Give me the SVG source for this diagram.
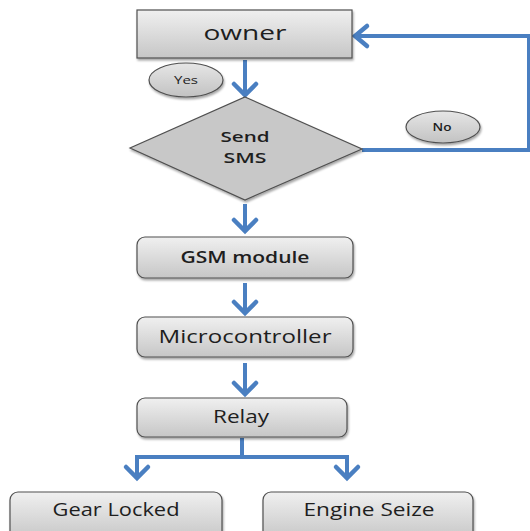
<svg xmlns="http://www.w3.org/2000/svg" width="530" height="531" viewBox="0 0 530 531">
<style>
.box{stroke:#505050;stroke-width:1.2;fill:url(#g)}
.ell{stroke:#505050;stroke-width:1.2;fill:url(#ge)}
.t{font-family:"Open Sans","Liberation Sans",sans-serif;fill:#1e1e1e;text-anchor:middle}
.c{stroke:#4a7fc1;stroke-width:4;fill:none}
.h{stroke:#4a7fc1;stroke-width:4.5;fill:none;stroke-linecap:round;stroke-linejoin:miter}
</style>
<defs>
<linearGradient id="g" x1="0" y1="0" x2="0" y2="1">
<stop offset="0" stop-color="#f0f0f0"/>
<stop offset="1" stop-color="#c6c6c6"/>
</linearGradient>
<linearGradient id="ge" x1="0" y1="0" x2="0" y2="1">
<stop offset="0" stop-color="#e6e6e6"/>
<stop offset="1" stop-color="#c2c2c2"/>
</linearGradient>
<filter id="s" x="-10%" y="-10%" width="120%" height="130%">
<feDropShadow dx="1" dy="2" stdDeviation="1.2" flood-color="#000" flood-opacity="0.35"/>
</filter>
</defs>
<rect width="530" height="531" fill="#fff"/>
<g id="connectors">
<line class="c" x1="245" y1="60" x2="245" y2="94"/>
<polyline class="h" points="234,84 245,95 256,84"/>
<polyline class="c" points="362,150 529,150 529,36 356,36"/>
<polyline class="h" points="367,26 355,36 367,46"/>
<line class="c" x1="245" y1="204" x2="245" y2="230"/>
<polyline class="h" points="234,220 245,231 256,220"/>
<line class="c" x1="245" y1="283" x2="245" y2="312"/>
<polyline class="h" points="234,302 245,313 256,302"/>
<line class="c" x1="245" y1="363" x2="245" y2="393"/>
<polyline class="h" points="234,383 245,394 256,383"/>
<polyline class="c" points="137,476 137,457 347,457 347,476"/>
<line class="c" x1="242" y1="438" x2="242" y2="457"/>
<polyline class="h" points="126,467 137,478 148,467"/>
<polyline class="h" points="336,467 347,478 358,467"/>
</g>
<g id="owner">
<rect class="box" x="137" y="10" width="215" height="48" filter="url(#s)"/>
<text class="t" x="245" y="40" font-size="20" textLength="83" lengthAdjust="spacingAndGlyphs">owner</text>
</g>
<g id="yes">
<ellipse class="ell" cx="186" cy="80" rx="37" ry="17" filter="url(#s)"/>
<text class="t" x="186" y="84" font-size="10" textLength="24" lengthAdjust="spacingAndGlyphs">Yes</text>
</g>
<g id="send-sms">
<polygon points="245,97 362,149 245,200 130,148" fill="#c8c8c8" stroke="#505050" stroke-width="1.2" filter="url(#s)"/>
<text class="t" x="245" y="142" font-size="14.5" font-weight="600" textLength="49" lengthAdjust="spacingAndGlyphs">Send</text>
<text class="t" x="245" y="163" font-size="14.5" font-weight="600" textLength="43" lengthAdjust="spacingAndGlyphs">SMS</text>
</g>
<g id="no">
<ellipse class="ell" cx="443" cy="127" rx="37" ry="16" filter="url(#s)"/>
<text class="t" x="442" y="131" font-size="10" font-weight="600" textLength="19" lengthAdjust="spacingAndGlyphs">No</text>
</g>
<g id="gsm">
<rect class="box" x="137" y="237" width="216" height="41" rx="8" filter="url(#s)"/>
<text class="t" x="245" y="263" font-size="17" font-weight="600" textLength="129" lengthAdjust="spacingAndGlyphs">GSM module</text>
</g>
<g id="micro">
<rect class="box" x="137" y="317" width="216" height="40" rx="8" filter="url(#s)"/>
<text class="t" x="245" y="343" font-size="18" textLength="173" lengthAdjust="spacingAndGlyphs">Microcontroller</text>
</g>
<g id="relay">
<rect class="box" x="137" y="398" width="210" height="39" rx="8" filter="url(#s)"/>
<text class="t" x="241" y="423" font-size="18" textLength="56" lengthAdjust="spacingAndGlyphs">Relay</text>
</g>
<g id="gear">
<rect class="box" x="10" y="492" width="212" height="48" rx="8" filter="url(#s)"/>
<text class="t" x="116" y="516" font-size="18" textLength="127" lengthAdjust="spacingAndGlyphs">Gear Locked</text>
</g>
<g id="engine">
<rect class="box" x="263" y="492" width="210" height="48" rx="8" filter="url(#s)"/>
<text class="t" x="369" y="516" font-size="18" textLength="131" lengthAdjust="spacingAndGlyphs">Engine Seize</text>
</g>
</svg>
